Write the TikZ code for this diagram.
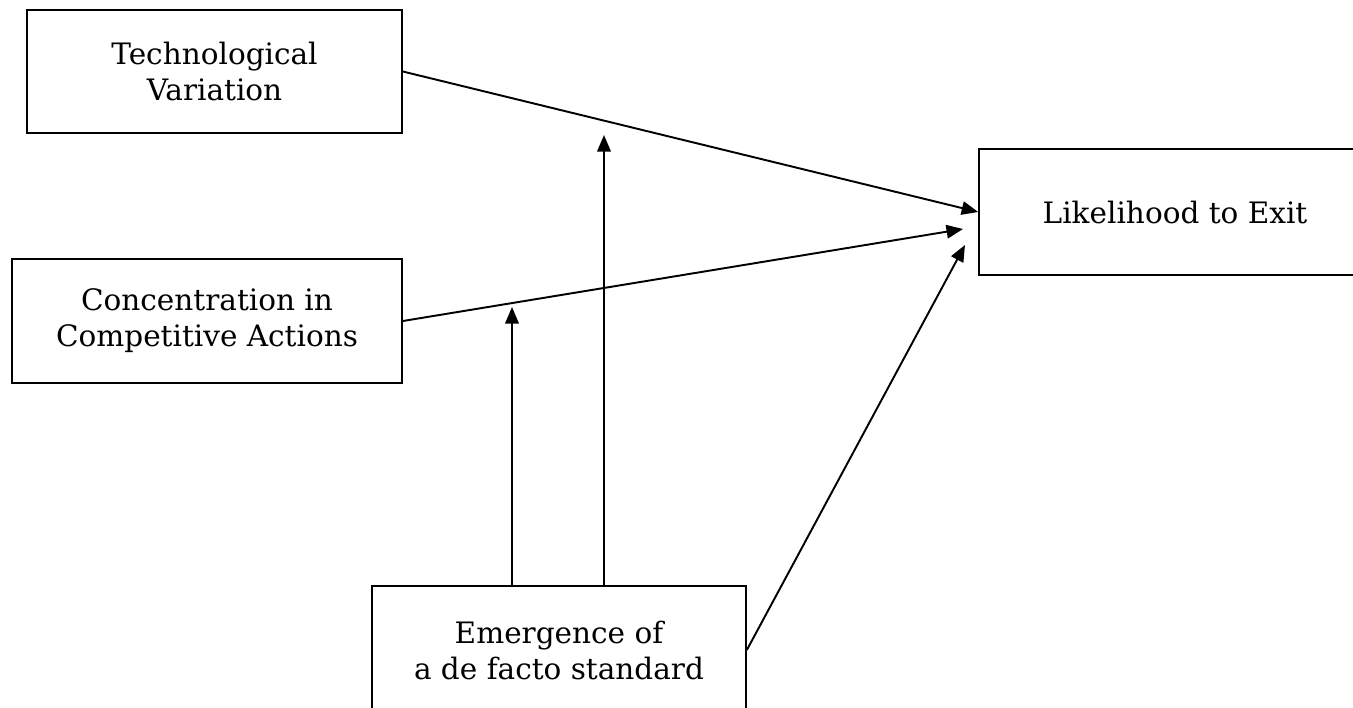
\documentclass[tikz,border=0pt]{standalone}
\usepackage{fontspec}
\setmainfont{DejaVu Serif}
\usepackage{tikz}
\usetikzlibrary{arrows.meta,positioning,calc}

\begin{document}
\begin{tikzpicture}[
  x=0.02cm, y=-0.02cm,
  box/.style={draw, line width=1pt, minimum width=7.5cm, minimum height=2.46cm, align=center, font=\fontsize{16.8}{20.5}\selectfont, inner sep=0pt},
  arr/.style={-{Triangle[length=3.3mm, width=2.7mm]}, line width=1.1pt},
]
  \clip (0,0) rectangle (1353,707);

  % Left column: the two predictors
  \node[box] (techvar) at (214.5,71.5) {Technological\\Variation};
  \node[box, minimum width=7.8cm, minimum height=2.48cm] (concact) at (207,321) {Concentration in\\Competitive Actions};

  % Right: outcome (runs past the edge)
  \node[box, minimum width=7.84cm, minimum height=2.52cm] (exit) at (1175,212) {Likelihood to Exit};

  % Bottom: moderator (runs past the edge)
  \node[box, minimum width=7.48cm, minimum height=2.56cm] (standard) at (559,650) {Emergence of\\a de facto standard};

  % Arrow ends that stop short of a line or box
  \coordinate (concend) at (963,229);
  \coordinate (stdend) at (965,245);
  \coordinate (modlow) at (512,307);
  \coordinate (modhigh) at (604,135);

  % Arrows
  \draw[arr] (techvar.east) -- (exit.west);
  \draw[arr] (concact.east) -- (concend);
  \draw[arr] (standard.east) -- (stdend);
  \draw[arr] (modlow |- standard.north) -- (modlow);
  \draw[arr] (modhigh |- standard.north) -- (modhigh);
\end{tikzpicture}
\end{document}
